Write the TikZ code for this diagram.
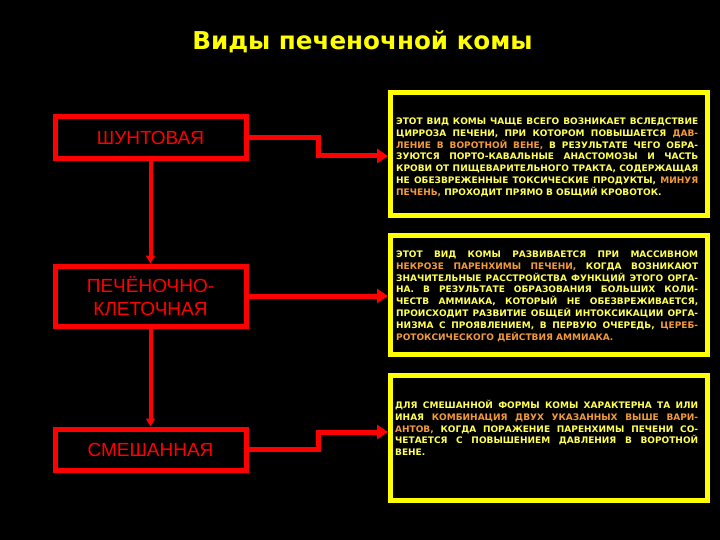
\documentclass[tikz,border=0pt]{standalone}
\usepackage{fontspec}
\setmainfont{Liberation Sans}
\newfontfamily\dvs{DejaVu Sans}
\usetikzlibrary{arrows.meta}
\definecolor{ylw}{HTML}{FFFF00}
\definecolor{txt}{HTML}{FFFF55}
\definecolor{org}{HTML}{F29A3A}
\definecolor{rd}{HTML}{FF0000}
\newcommand{\hl}[1]{\textcolor{org}{#1}}
\newcommand{\jl}[1]{\makebox[\linewidth][s]{#1}\\}
\newcommand{\lastline}[1]{\makebox[\linewidth][l]{#1}}
\begin{document}
\begin{tikzpicture}[x=1pt,y=-1pt,
  redbox/.style={draw=rd, line width=5pt, minimum width=191pt, inner sep=0pt, font=\fontsize{19}{22.5}\selectfont, text=rd, align=center},
  ylbox/.style={draw=ylw, line width=5pt, minimum width=317pt, inner sep=0pt},
  desc/.style={anchor=base west, inner sep=0pt, text=txt, font=\dvs\bfseries\fontsize{9}{11.8}\selectfont},
  conn/.style={draw=rd, line width=5pt, -{Triangle[length=11pt,width=14pt]}},
  vconn/.style={draw=rd, line width=4pt, -{Triangle[length=8pt,width=9pt]}}]
\fill[black] (0,0) rectangle (720,540);
\useasboundingbox (0,0) rectangle (720,540);

\node[font=\dvs\bfseries\fontsize{24.6}{28}\selectfont, text=ylw] (title) at (362.5,42) {Виды печеночной комы};

\node[redbox, minimum height=42pt] (b1) at (150.5,138) {ШУНТОВАЯ};
\node[redbox, minimum height=60pt] (b2) at (150.5,296) {ПЕЧЁНОЧНО-\\КЛЕТОЧНАЯ};
\node[redbox, minimum height=41pt] (b3) at (150.5,449.5) {СМЕШАННАЯ};

\node[ylbox, minimum height=123pt] (y1) at (549,154) {};
\node[ylbox, minimum height=119pt] (y2) at (549,295) {};
\node[ylbox, minimum height=125pt] (y3) at (549,438) {};

\node[desc] (t1) at (396,124.5) {\parbox[t]{302pt}{%
\jl{ЭТОТ ВИД КОМЫ ЧАЩЕ ВСЕГО ВОЗНИКАЕТ ВСЛЕДСТВИЕ}
\jl{ЦИРРОЗА ПЕЧЕНИ, ПРИ КОТОРОМ ПОВЫШАЕТСЯ \hl{ДАВ-}}
\jl{\hl{ЛЕНИЕ В ВОРОТНОЙ ВЕНЕ,} В РЕЗУЛЬТАТЕ ЧЕГО ОБРА-}
\jl{ЗУЮТСЯ ПОРТО-КАВАЛЬНЫЕ АНАСТОМОЗЫ И ЧАСТЬ}
\jl{КРОВИ ОТ ПИЩЕВАРИТЕЛЬНОГО ТРАКТА, СОДЕРЖАЩАЯ}
\jl{НЕ ОБЕЗВРЕЖЕННЫЕ ТОКСИЧЕСКИЕ ПРОДУКТЫ, \hl{МИНУЯ}}
\lastline{\hl{ПЕЧЕНЬ,} ПРОХОДИТ ПРЯМО В ОБЩИЙ КРОВОТОК.}}};

\node[desc] (t2) at (396,257.5) {\parbox[t]{302pt}{%
\jl{ЭТОТ ВИД КОМЫ РАЗВИВАЕТСЯ ПРИ МАССИВНОМ}
\jl{\hl{НЕКРОЗЕ ПАРЕНХИМЫ ПЕЧЕНИ,} КОГДА ВОЗНИКАЮТ}
\jl{ЗНАЧИТЕЛЬНЫЕ РАССТРОЙСТВА ФУНКЦИЙ ЭТОГО ОРГА-}
\jl{НА. В РЕЗУЛЬТАТЕ ОБРАЗОВАНИЯ БОЛЬШИХ КОЛИ-}
\jl{ЧЕСТВ АММИАКА, КОТОРЫЙ НЕ ОБЕЗВРЕЖИВАЕТСЯ,}
\jl{ПРОИСХОДИТ РАЗВИТИЕ ОБЩЕЙ ИНТОКСИКАЦИИ ОРГА-}
\jl{НИЗМА С ПРОЯВЛЕНИЕМ, В ПЕРВУЮ ОЧЕРЕДЬ, \hl{ЦЕРЕБ-}}
\lastline{\hl{РОТОКСИЧЕСКОГО ДЕЙСТВИЯ АММИАКА.}}}};

\node[desc] (t3) at (395,408.5) {\parbox[t]{303pt}{%
\jl{ДЛЯ СМЕШАННОЙ ФОРМЫ КОМЫ ХАРАКТЕРНА ТА ИЛИ}
\jl{ИНАЯ \hl{КОМБИНАЦИЯ ДВУХ УКАЗАННЫХ ВЫШЕ ВАРИ-}}
\jl{\hl{АНТОВ,} КОГДА ПОРАЖЕНИЕ ПАРЕНХИМЫ ПЕЧЕНИ СО-}
\jl{ЧЕТАЕТСЯ С ПОВЫШЕНИЕМ ДАВЛЕНИЯ В ВОРОТНОЙ}
\lastline{ВЕНЕ.}}};

\coordinate (k1a) at (318,138);
\coordinate (k1b) at (318,156);
\coordinate (k3a) at (318,449);
\coordinate (k3b) at (318,432);

\draw[conn] (b1.east |- k1a) -- (k1a) -- (k1b) -- (k1b -| y1.west);
\draw[conn] (b2.east) -- (b2.east -| y2.west);
\draw[conn] (b3.east |- k3a) -- (k3a) -- (k3b) -- (k3b -| y3.west);
\draw[vconn] (b1.south) -- (b2.north);
\draw[vconn] (b2.south) -- (b3.north);
\end{tikzpicture}
\end{document}
